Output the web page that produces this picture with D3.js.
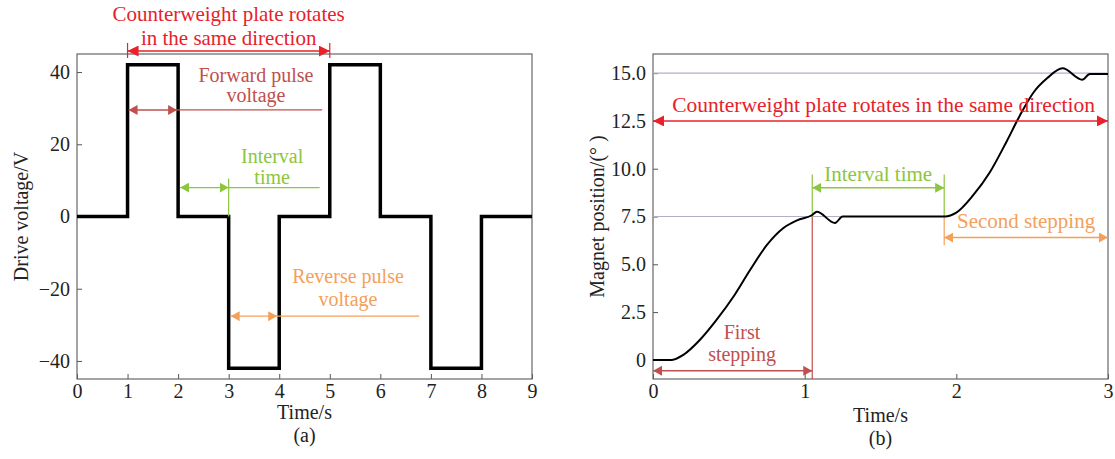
<!DOCTYPE html>
<html>
<head>
<meta charset="utf-8">
<script src="https://d3js.org/d3.v7.min.js"></script>
<style>
  body { margin: 0; background: #fff; }
  svg, svg text { font-family: "Liberation Serif", "Times New Roman", serif; }
  .tick text { font-size: 20px; fill: #222; }
  .tick line { stroke: #555; }
</style>
</head>
<body>
<svg id="chart" width="1115" height="459"></svg>
<script>
// panel (a): drive voltage
const voltTime  = [0, 1, 1, 2, 2, 3, 3, 4, 4, 5, 5, 6, 6, 7, 7, 8, 8, 9];
const voltValue = [0, 0, 42, 42, 0, 0, -42, -42, 0, 0, 42, 42, 0, 0, -42, -42, 0, 0];
const voltXTicks = [0, 1, 2, 3, 4, 5, 6, 7, 8, 9];
const voltYTicks = [-40, -20, 0, 20, 40];

// panel (b): magnet position
const posTime  = [0, 0.125, 0.2, 0.31, 0.42, 0.53, 0.64, 0.75, 0.86, 0.95, 1.05, 1.08, 1.2, 1.25,
                  1.925, 2.0, 2.11, 2.22, 2.33, 2.42, 2.51, 2.6, 2.7, 2.83, 2.88, 3.0];
const posValue = [0, 0, 0.26, 1.05, 2.1, 3.3, 4.7, 6.0, 6.9, 7.3, 7.58, 7.75, 7.16, 7.5,
                  7.5, 7.7, 8.6, 9.8, 11.4, 12.8, 14.0, 14.74, 15.25, 14.65, 14.95, 14.95];
const posXTicks = [0, 1, 2, 3];
const posYTicks = [0, 2.5, 5, 7.5, 10, 12.5, 15];

const RED = "#e8212b", BROWN = "#c0504d", GREEN = "#8cc63e", ORANGE = "#f4a05a", GUIDE = "#b0b0c8";
const SERIF = "Liberation Serif, Times New Roman, serif";

const svg = d3.select("#chart").attr("font-family", SERIF);
const defs = svg.append("defs");
function marker(id, color, len, wid) {
  defs.append("marker")
    .attr("id", id).attr("viewBox", `0 0 ${len} ${wid}`)
    .attr("refX", len).attr("refY", wid / 2)
    .attr("markerWidth", len).attr("markerHeight", wid)
    .attr("markerUnits", "userSpaceOnUse")
    .attr("orient", "auto-start-reverse")
    .append("path").attr("d", `M0,0L${len},${wid / 2}L0,${wid}Z`).attr("fill", color);
}
marker("mRed", RED, 11, 11);
marker("mBrown", BROWN, 9, 10);
marker("mGreen", GREEN, 9, 10);
marker("mOrange", ORANGE, 9, 10);

function frame(g, x, y, xTicks, yTicks, xFmt, yFmt) {
  const [x0, x1] = x.range(), [y0, y1] = y.range();
  g.append("g").attr("transform", `translate(0,${y0})`)
    .call(d3.axisBottom(x).tickValues(xTicks).tickSizeInner(-5).tickSizeOuter(0).tickPadding(5).tickFormat(xFmt))
    .attr("font-family", SERIF).attr("font-size", null)
    .call(a => a.select(".domain").remove());
  g.append("g").attr("transform", `translate(${x0},0)`)
    .call(d3.axisLeft(y).tickValues(yTicks).tickSizeInner(-5).tickSizeOuter(0).tickPadding(7).tickFormat(yFmt))
    .attr("font-family", SERIF).attr("font-size", null)
    .call(a => a.select(".domain").remove());
  g.append("rect").attr("x", x0).attr("y", y1).attr("width", x1 - x0).attr("height", y0 - y1)
    .attr("fill", "none").attr("stroke", "#666").attr("stroke-width", 1.2);
}
function line(g, x1, y1, x2, y2, color, w, mStart, mEnd) {
  const l = g.append("line").attr("x1", x1).attr("y1", y1).attr("x2", x2).attr("y2", y2)
    .attr("stroke", color).attr("stroke-width", w || 1.2);
  if (mStart) l.attr("marker-start", `url(#${mStart})`);
  if (mEnd) l.attr("marker-end", `url(#${mEnd})`);
  return l;
}
function text(g, x, y, lines, color, size, gap) {
  const t = g.append("text").attr("x", x).attr("y", y).attr("text-anchor", "middle")
    .attr("font-family", SERIF).attr("fill", color).attr("font-size", size || 20);
  lines.forEach((s, i) => t.append("tspan").attr("x", x).attr("dy", i ? (gap || 21) : 0).text(s));
  return t;
}

// ---------- panel (a)
{
  const g = svg.append("g");
  const x = d3.scaleLinear().domain([0, 9]).range([77, 532]);
  const y = d3.scaleLinear().domain([-45, 45]).range([379, 54]);
  frame(g, x, y, voltXTicks, voltYTicks, d3.format("d"), d3.format("d"));

  g.append("path").datum(voltTime.map((t, i) => [t, voltValue[i]]))
    .attr("fill", "none").attr("stroke", "#000").attr("stroke-width", 3.5)
    .attr("stroke-linejoin", "miter")
    .attr("d", d3.line().x(d => x(d[0])).y(d => y(d[1])));

  // counterweight arrow
  line(g, x(1), 43, x(1), 58, RED, 1.2);
  line(g, x(5), 43, x(5), 58, RED, 1.2);
  line(g, x(1), 51, x(5), 51, RED, 1.5, "mRed", "mRed");
  text(g, x(3), 21, ["Counterweight plate rotates", "in the same direction"], RED, 21, 24);

  // forward pulse
  const yF = y(29.5);
  line(g, x(1.02), yF, x(1.98), yF, BROWN, 1.4, "mBrown", "mBrown");
  line(g, x(1.98), yF, x(4.85), yF, BROWN, 1.2);
  text(g, x(3.54), 82, ["Forward pulse", "voltage"], BROWN, 20, 20);

  // interval time
  const yI = y(8);
  line(g, x(3), y(10.5), x(3), y(0), GREEN, 1.2);
  line(g, x(2.04), yI, x(3), yI, GREEN, 1.4, "mGreen", "mGreen");
  line(g, x(3), yI, x(4.8), yI, GREEN, 1.2);
  text(g, x(3.86), 163, ["Interval", "time"], GREEN, 20, 21);

  // reverse pulse
  const yR = y(-27.6);
  line(g, x(3.04), yR, x(3.96), yR, ORANGE, 1.4, "mOrange", "mOrange");
  line(g, x(3.96), yR, x(6.77), yR, ORANGE, 1.2);
  text(g, x(5.36), 283, ["Reverse pulse", "voltage"], ORANGE, 20, 23);

  g.append("text").attr("transform", `translate(28,${y(0)}) rotate(-90)`)
    .attr("text-anchor", "middle").attr("font-family", SERIF).attr("font-size", 20).attr("fill", "#222")
    .text("Drive voltage/V");
  text(g, x(4.5), 419, ["Time/s", "(a)"], "#222", 20, 23);
}

// ---------- panel (b)
{
  const g = svg.append("g");
  const x = d3.scaleLinear().domain([0, 3]).range([653, 1108]);
  const y = d3.scaleLinear().domain([-1, 16]).range([379, 54]);
  frame(g, x, y, posXTicks, posYTicks, d3.format("d"), d => d === 0 ? "0" : d3.format(".1f")(d));

  // guide lines
  line(g, x(0), y(15), x(3), y(15), GUIDE, 1.2);
  line(g, x(0), y(7.5), x(1.925), y(7.5), GUIDE, 1.2);

  // stage markers
  line(g, x(1.05), y(7.5), x(1.05), y(-1), BROWN, 1.2);
  line(g, x(1.05), y(7.5), x(1.05), y(9.7), GREEN, 1.2);
  line(g, x(1.92), y(7.5), x(1.92), y(9.7), GREEN, 1.2);
  line(g, x(1.92), y(7.5), x(1.92), y(6.0), ORANGE, 1.2);

  g.append("path").datum(posTime.map((t, i) => [t, posValue[i]]))
    .attr("fill", "none").attr("stroke", "#000").attr("stroke-width", 2)
    .attr("d", d3.line().curve(d3.curveMonotoneX).x(d => x(d[0])).y(d => y(d[1])));

  line(g, x(0), y(12.5), x(3), y(12.5), RED, 1.5, "mRed", "mRed");
  text(g, x(1.52), y(12.5) - 9, ["Counterweight plate rotates in the same direction"], RED, 21.5);

  line(g, x(1.05), y(9.0), x(1.92), y(9.0), GREEN, 1.4, "mGreen", "mGreen");
  text(g, x(1.485), y(9.0) - 7, ["Interval time"], GREEN, 21);

  line(g, x(1.92), y(6.4), x(3), y(6.4), ORANGE, 1.4, "mOrange", "mOrange");
  text(g, x(2.46), y(6.4) - 10, ["Second stepping"], ORANGE, 21);

  line(g, x(0), y(-0.57), x(1.05), y(-0.57), BROWN, 1.4, "mBrown", "mBrown");
  text(g, x(0.587), 339, ["First", "stepping"], BROWN, 20, 22);

  g.append("text").attr("transform", `translate(604,${y(7.5)}) rotate(-90)`)
    .attr("text-anchor", "middle").attr("font-family", SERIF).attr("font-size", 20).attr("fill", "#222")
    .text("Magnet position/(° )");
  text(g, x(1.5), 422, ["Time/s", "(b)"], "#222", 20, 23);
}
</script>
</body>
</html>
